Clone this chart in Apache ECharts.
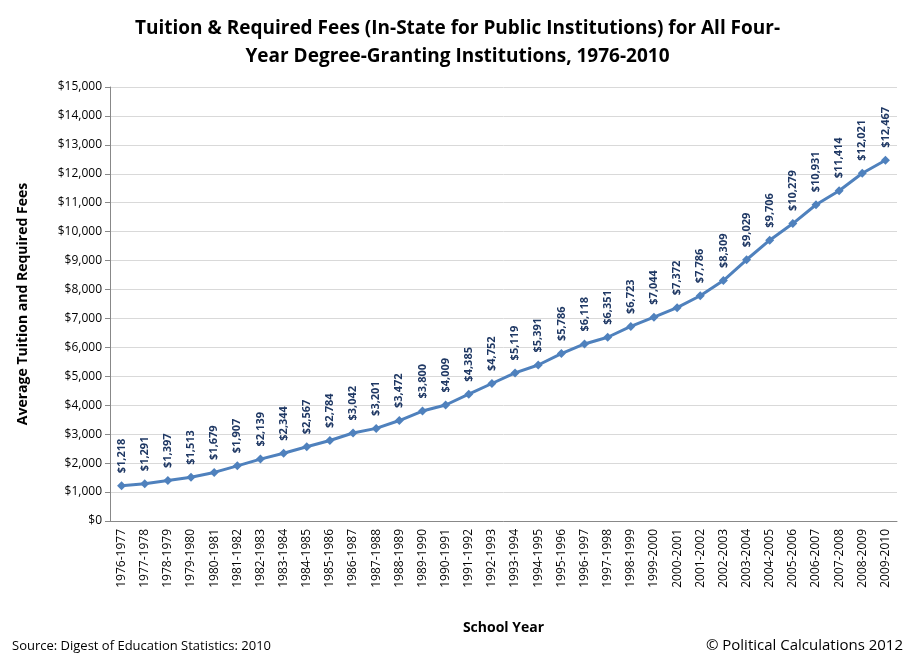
<!DOCTYPE html>
<html><head><meta charset="utf-8">
<script src="https://cdn.jsdelivr.net/npm/echarts@6/dist/echarts.min.js"></script>
<style>html,body{margin:0;padding:0;background:#fff}#c{width:915px;height:662px}</style>
</head><body><div id="c"></div>
<script>
const categories = ["1976-1977","1977-1978","1978-1979","1979-1980","1980-1981","1981-1982","1982-1983","1983-1984","1984-1985","1985-1986","1986-1987","1987-1988","1988-1989","1989-1990","1990-1991","1991-1992","1992-1993","1993-1994","1994-1995","1995-1996","1996-1997","1997-1998","1998-1999","1999-2000","2000-2001","2001-2002","2002-2003","2003-2004","2004-2005","2005-2006","2006-2007","2007-2008","2008-2009","2009-2010"];
const fees = [1218,1291,1397,1513,1679,1907,2139,2344,2567,2784,3042,3201,3472,3800,4009,4385,4752,5119,5391,5786,6118,6351,6723,7044,7372,7786,8309,9029,9706,10279,10931,11414,12021,12467];
const fmt = v => '$' + v.toLocaleString('en-US');
const F = 'Open Sans, Liberation Sans, sans-serif';
const chart = echarts.init(document.getElementById('c'));
chart.setOption({
  animation:false,
  title:{text:'Tuition & Required Fees (In-State for Public Institutions) for All Four-\nYear Degree-Granting Institutions, 1976-2010',left:'center',top:10,
    textStyle:{fontFamily:F,fontSize:19,fontWeight:'bold',color:'#000',lineHeight:28}},
  graphic:[
    {type:'text',left:12,top:640,style:{text:'Source: Digest of Education Statistics: 2010',font:'13px '+F,fill:'#000'}},
    {type:'text',right:12,top:638,style:{text:'© Political Calculations 2012',font:'15px '+F,fill:'#000'}}
  ],
  grid:{left:110,right:18,top:87,bottom:141},
  xAxis:{type:'category',data:categories,boundaryGap:true,name:'School Year',nameLocation:'middle',nameGap:100,
    nameTextStyle:{fontFamily:F,fontSize:14,fontWeight:'bold',color:'#000'},
    axisLine:{lineStyle:{color:'#888'}},axisTick:{alignWithLabel:false,lineStyle:{color:'#888'}},
    axisLabel:{rotate:90,interval:0,fontFamily:F,fontSize:12,color:'#000'}},
  yAxis:{type:'value',min:0,max:15000,interval:1000,name:'Average Tuition and Required Fees',nameLocation:'middle',nameGap:80,
    nameTextStyle:{fontFamily:F,fontSize:14,fontWeight:'bold',color:'#000'},
    axisLine:{show:true,lineStyle:{color:'#888'}},axisTick:{show:true,lineStyle:{color:'#888'}},
    splitLine:{lineStyle:{color:'#d9d9d9'}},
    axisLabel:{formatter:fmt,fontFamily:F,fontSize:12,color:'#000'}},
  series:[{type:'line',data:fees,symbol:'diamond',symbolSize:9,
    lineStyle:{color:'#4f81bd',width:3},itemStyle:{color:'#4f81bd'},
    label:{show:true,position:'top',rotate:90,align:'left',verticalAlign:'middle',distance:8,formatter:p=>fmt(p.value),
      fontFamily:F,fontSize:11,fontWeight:'bold',color:'#1f3864'}}]
});
</script></body></html>
